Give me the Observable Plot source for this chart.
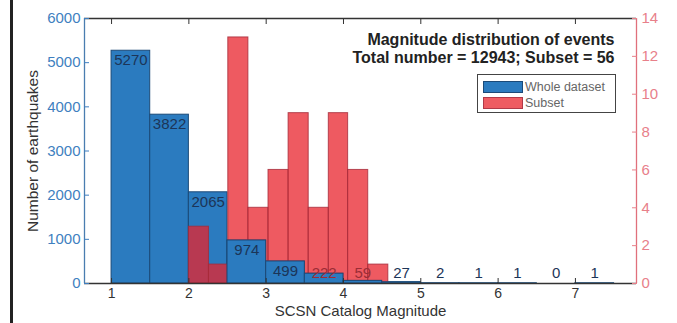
<!DOCTYPE html>
<html>
<head>
<meta charset="utf-8">
<script src="https://cdn.jsdelivr.net/npm/d3@7"></script>
<script src="https://cdn.jsdelivr.net/npm/@observablehq/plot@0.6"></script>
<style>
  html, body { margin: 0; padding: 0; background: #fff; }
  #wrap { position: relative; width: 677px; height: 323px; overflow: hidden; font-family: "Liberation Sans", Arial, sans-serif; }
  #edge { position: absolute; left: 10px; top: 0; width: 2.5px; height: 323px; background: #222; }
  #legend { position: absolute; left: 477px; top: 74px; width: 137px; height: 37px; border: 1.5px solid #444; background: #fff; }
  .sw { position: absolute; left: 5px; width: 38px; height: 10px; }
  .lt { position: absolute; left: 47px; font-size: 12.5px; color: #666; line-height: 14px; }
</style>
</head>
<body>
<div id="wrap">
  <div id="edge"></div>
  <div id="chart"></div>
  <div id="legend">
    <div class="sw" style="top:6px;background:#2b7bbf;border:1px solid #1b4a78;"></div>
    <div class="lt" style="top:5px;">Whole dataset</div>
    <div class="sw" style="top:22px;background:#ee5c62;border:1px solid #b03a48;"></div>
    <div class="lt" style="top:21px;">Subset</div>
  </div>
</div>
<script>
// ---- data ----
const wholeEdges = [1, 1.5, 2, 2.5, 3, 3.5, 4, 4.5, 5, 5.5, 6, 6.5, 7, 7.5];
const wholeCounts = [5270, 3822, 2065, 974, 499, 222, 59, 27, 2, 1, 1, 0, 1];
const subsetEdges = [2.0, 2.26, 2.51, 2.77, 3.03, 3.29, 3.55, 3.81, 4.06, 4.32, 4.58];
const subsetCounts = [3, 1, 13, 4, 6, 9, 4, 9, 6, 1];
const xTicks = [1, 2, 3, 4, 5, 6, 7];
const leftTicks = [0, 1000, 2000, 3000, 4000, 5000, 6000];
const rightTicks = [0, 2, 4, 6, 8, 10, 12, 14];
const xDomain = [0.65, 7.79];
const leftMax = 6000;
const rightMax = 14;
const titleLines = ["Magnitude distribution of events", "Total number = 12943; Subset = 56"];
const xLabel = "SCSN Catalog Magnitude";
const yLabel = "Number of earthquakes";

// ---- derived tables ----
const k = leftMax / rightMax;
const whole = wholeCounts.map((c, i) => ({x0: wholeEdges[i], x1: wholeEdges[i + 1], count: c}));
const subset = subsetCounts.map((c, i) => ({x0: subsetEdges[i], x1: subsetEdges[i + 1], count: c, scaled: c * k}));

const blue = "#2b7bbf", blueEdge = "#1b4a78";
const red = "#e8232c", redEdge = "#a52a3a";
const font = "Liberation Sans, Arial, sans-serif";

const chart = Plot.plot({
  width: 677,
  height: 323,
  marginTop: 18,
  marginRight: 41,
  marginBottom: 40,
  marginLeft: 84,
  style: {fontFamily: font, fontSize: "15px", background: "transparent"},
  x: {domain: xDomain, label: null},
  y: {domain: [0, leftMax], label: null},
  marks: [
    Plot.rectY(whole, {x1: "x0", x2: "x1", y: "count", fill: blue, stroke: blueEdge, strokeWidth: 1}),
    Plot.rectY(subset, {x1: "x0", x2: "x1", y: "scaled", fill: red, fillOpacity: 0.75, stroke: redEdge, strokeWidth: 1, strokeOpacity: 0.8}),
    Plot.rectY(whole.filter(d => d.x0 >= 2.5), {x1: "x0", x2: "x1", y: "count", fill: blue, stroke: blueEdge, strokeWidth: 1}),
    Plot.text(whole, {
      x: d => (d.x0 + d.x1) / 2,
      y: d => Math.max(d.count - 215, 226),
      text: d => String(d.count),
      fill: d => (d.x0 >= 3.5 && d.x0 < 4.5) ? "#9a2d36" : "#1c3558",
      fontSize: 15
    }),
    // frame
    Plot.ruleY([0], {stroke: "#333", strokeWidth: 1.3}),
    Plot.ruleY([leftMax], {stroke: "#333", strokeWidth: 1.3}),
    Plot.ruleX([xDomain[0]], {stroke: "#4a7db0", strokeWidth: 1.3}),
    Plot.ruleX([xDomain[1]], {stroke: "#e0707c", strokeWidth: 1.3}),
    // axes
    Plot.axisX({anchor: "bottom", ticks: xTicks, tickSize: -5, tickPadding: 10, color: "#333", fontSize: 14, label: null}),
    Plot.axisX({anchor: "top", ticks: xTicks, tickSize: -5, tickFormat: () => "", color: "#333", label: null}),
    Plot.axisY({anchor: "left", ticks: leftTicks, tickFormat: d => String(d), tickSize: -5, tickPadding: 9, color: "#3f7fc0", fontSize: 15, label: null}),
    Plot.axisY({anchor: "right", ticks: rightTicks.map(v => v * k), tickFormat: v => String(Math.round(v / k)), tickSize: -5, tickPadding: 10, color: "#e8808a", fontSize: 15, label: null}),
    // labels
    Plot.text([xLabel], {frameAnchor: "bottom", textAnchor: "middle", dy: 32.5, fontSize: 15, fill: "#333"}),
    Plot.text([yLabel], {frameAnchor: "left", textAnchor: "middle", rotate: -90, dx: -51, fontSize: 15.5, fill: "#333"}),
    Plot.text([titleLines[0]], {frameAnchor: "top-right", textAnchor: "end", lineAnchor: "top", dx: -22, dy: 15, fontSize: 16, fontWeight: "bold", fill: "#222"}),
    Plot.text([titleLines[1]], {frameAnchor: "top-right", textAnchor: "end", lineAnchor: "top", dx: -22, dy: 33.5, fontSize: 16, fontWeight: "bold", fill: "#222"})
  ]
});
document.getElementById("chart").appendChild(chart);
</script>
</body>
</html>
